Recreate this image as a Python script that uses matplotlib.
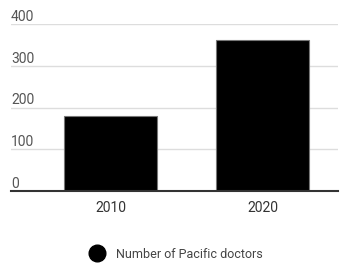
import matplotlib.pyplot as plt
from matplotlib.lines import Line2D

years = ["2010", "2020"]
doctors = [180, 361]
y_ticks = [0, 100, 200, 300, 400]
series_name = "Number of Pacific doctors"

plt.rcParams['font.family'] = ['Roboto', 'DejaVu Sans']

W, H = 343, 263
fig = plt.figure(figsize=(W / 100, H / 100), dpi=100)
# plot area in pixels: left 11, right 338, top 24 (400), bottom 191 (0)
ax = fig.add_axes([11 / W, (H - 191) / H, (338 - 11) / W, (191 - 24) / H])

x = list(range(len(years)))
ax.bar(x, doctors, width=0.61, color='black', edgecolor='#777777', linewidth=0.8, zorder=3)

ax.set_xlim(-0.655, 1.497)
ax.set_ylim(0, 400)
ax.set_yticks(y_ticks)
ax.yaxis.grid(True, color='#dddddd', linewidth=1, zorder=0)
ax.tick_params(axis='y', length=0, labelleft=False)
for v in y_ticks:
    ax.text(0, v, str(v), transform=ax.get_yaxis_transform(), ha='left', va='bottom',
            fontsize=10, color='#555555')

ax.set_xticks(x)
ax.set_xticklabels(years, fontsize=10, color='#333333')
ax.tick_params(axis='x', length=0, pad=7)

for s in ['top', 'right', 'left']:
    ax.spines[s].set_visible(False)
ax.spines['bottom'].set_color('#333333')
ax.spines['bottom'].set_linewidth(1.5)
ax.spines['bottom'].set_zorder(4)

handle = Line2D([], [], marker='o', linestyle='none', markersize=12,
                markerfacecolor='black', markeredgecolor='black')
fig.legend([handle], [series_name], loc='center', bbox_to_anchor=(176 / W, (H - 254) / H),
           frameon=False, fontsize=9, handletextpad=0.9, handlelength=1.2,
           labelcolor='#444444')

fig.savefig("out.png", dpi=100)
